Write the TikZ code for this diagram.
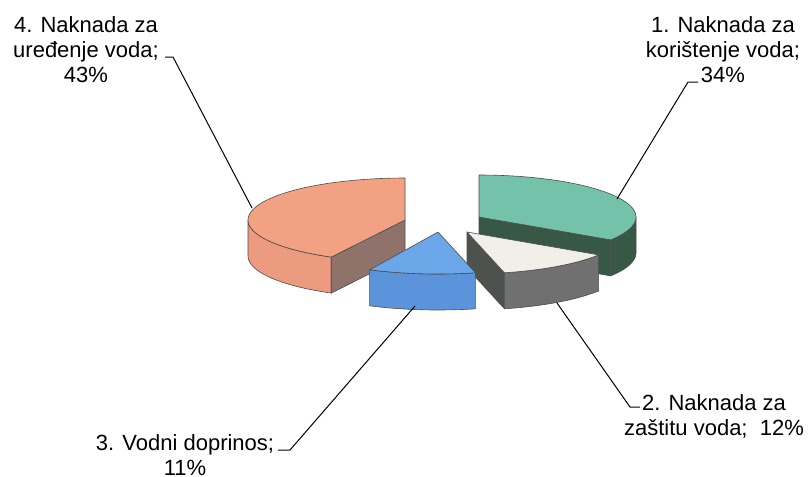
\documentclass[tikz,border=0pt]{standalone}
\usepackage{fontspec}
\setmainfont{Liberation Sans}
\definecolor{saltop}{RGB}{243,161,131}
\definecolor{salside}{RGB}{236,154,128}
\definecolor{salcut}{RGB}{143,115,106}
\definecolor{teatop}{RGB}{117,194,170}
\definecolor{teaside}{RGB}{55,88,69}
\definecolor{cretop}{RGB}{241,239,232}
\definecolor{creside}{RGB}{112,112,112}
\definecolor{crecut}{RGB}{78,82,78}
\definecolor{blutop}{RGB}{107,166,233}
\definecolor{bluside}{RGB}{92,148,220}
\newcommand{\pierx}{157}
\newcommand{\piery}{42}
\begin{document}
\begin{tikzpicture}[x=.5pt, y=-.5pt, face/.style={draw=black!70, line width=.3pt, line join=round},
  lab/.style={align=center, inner sep=0pt, font=\fontsize{11}{12.5}\selectfont}, leader/.style={line width=.5pt}]
\useasboundingbox (0,0) rectangle (810,477);
% 4: uredjenje voda
\filldraw[face, fill=salside] plot[domain=180:242, samples=20] ({405+\pierx*cos(\x)}, {220-\piery*sin(\x)})
    -- plot[domain=242:180, samples=20] ({405+\pierx*cos(\x)}, {256-\piery*sin(\x)}) -- cycle;
\filldraw[face, fill=salcut] (405,220) -- ({405+\pierx*cos(242)}, {220-\piery*sin(242)}) -- ++(0,36) -- (405,256) -- cycle;
\filldraw[face, fill=saltop] (405,220) -- plot[domain=90:242, samples=50] ({405+\pierx*cos(\x)}, {220-\piery*sin(\x)}) -- cycle;
% 1: koristenje voda
\filldraw[face, fill=teaside] plot[domain=-33:0, samples=20] ({479+\pierx*cos(\x)}, {217-\piery*sin(\x)})
    -- plot[domain=0:-33, samples=20] ({479+\pierx*cos(\x)}, {253-\piery*sin(\x)}) -- cycle;
\filldraw[face, fill=teaside] (479,217) -- ({479+\pierx*cos(-33)}, {217-\piery*sin(-33)}) -- ++(0,36) -- (479,253) -- cycle;
\filldraw[face, fill=teatop] (479,217) -- plot[domain=-33:90, samples=50] ({479+\pierx*cos(\x)}, {217-\piery*sin(\x)}) -- cycle;
% 2: zastitu voda
\filldraw[face, fill=crecut] (467,232) -- ({467+\pierx*cos(-76.2)}, {232-\piery*sin(-76.2)}) -- ++(0,36) -- (467,268) -- cycle;
\filldraw[face, fill=creside] plot[domain=-76.2:-33, samples=20] ({467+\pierx*cos(\x)}, {232-\piery*sin(\x)})
    -- plot[domain=-33:-76.2, samples=20] ({467+\pierx*cos(\x)}, {268-\piery*sin(\x)}) -- cycle;
\filldraw[face, fill=cretop] (467,232) -- plot[domain=-76.2:-33, samples=30] ({467+\pierx*cos(\x)}, {232-\piery*sin(\x)}) -- cycle;
% 3: vodni doprinos
\filldraw[face, fill=bluside] plot[domain=-115.8:-76.2, samples=20] ({438+\pierx*cos(\x)}, {232-\piery*sin(\x)})
    -- plot[domain=-76.2:-115.8, samples=20] ({438+\pierx*cos(\x)}, {268-\piery*sin(\x)}) -- cycle;
\filldraw[face, fill=blutop] (438,232) -- plot[domain=-115.8:-76.2, samples=30] ({438+\pierx*cos(\x)}, {232-\piery*sin(\x)}) -- cycle;

% labels
\node[lab] (lab4) at (86,50) {4. Naknada za\\uređenje voda;\\43\%};
\node[lab] (lab1) at (723,50) {1. Naknada za\\korištenje voda;\\34\%};
\node[lab] (lab2) at (714,416) {2. Naknada za\\zaštitu voda;~ 12\%};
\node[lab] (lab3) at (185,455) {3. Vodni doprinos;\\11\%};
\coordinate (p4) at (252,208);
\coordinate (p1) at (617,199);
\coordinate (p2) at (557,303);
\coordinate (p3) at (415,306);
\coordinate (k4) at (165,57);
\coordinate (k1) at (698,82);
\coordinate (k2) at (640,407);
\coordinate (k3) at (278,450);
\draw[leader] (k4) -- ++(8,0) -- (p4);
\draw[leader] (k1) -- ++(-10,0) -- (p1);
\draw[leader] (k2) -- ++(-10,0) -- (p2);
\draw[leader] (k3) -- ++(12,0) -- (p3);
\end{tikzpicture}
\end{document}
